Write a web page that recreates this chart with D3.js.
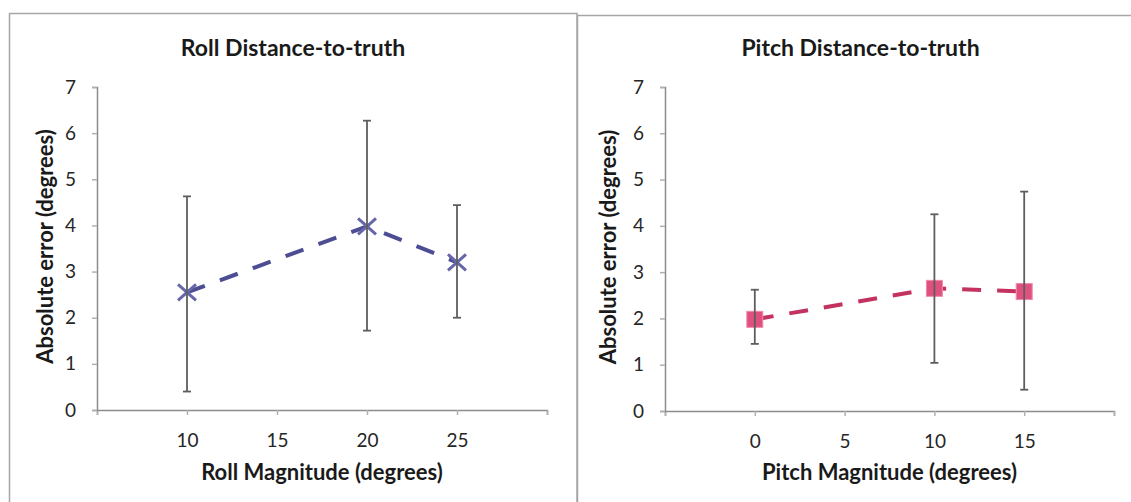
<!DOCTYPE html>
<html>
<head>
<meta charset="utf-8">
<script src="https://cdn.jsdelivr.net/npm/d3@7"></script>
<style>
  body{margin:0;background:#fff;}
  svg{display:block;}
  svg text{font-family:Lato,"Open Sans",sans-serif;}
</style>
</head>
<body>
<svg width="1131" height="502"></svg>
<script>
  const svgWidth=1131;
  const svgHeight=502;

  // roll panel
  const rollX=[10,20,25];
  const rollMean=[2.55,3.98,3.2];
  const rollLow=[0.4,1.72,2.0];
  const rollHigh=[4.63,6.27,4.44];
  const rollTicks=[10,15,20,25];

  // pitch panel
  const pitchX=[0,10,15];
  const pitchMean=[1.98,2.65,2.58];
  const pitchLow=[1.45,1.04,0.46];
  const pitchHigh=[2.62,4.25,4.74];
  const pitchTicks=[0,5,10,15];

  const yTicks=[0,1,2,3,4,5,6,7];

  const panels=[
    {title:"Roll Distance-to-truth",xLabel:"Roll Magnitude (degrees)",
     xs:rollX,mean:rollMean,low:rollLow,high:rollHigh,ticks:rollTicks,xDomain:[5,30],
     box:[9.5,13.5,567.5,520],plot:{left:97,right:547,top:87,bottom:410},
     yLabelGap:44,line:"#4d4d94",marker:"x",markerColor:"#6666aa"},
    {title:"Pitch Distance-to-truth",xLabel:"Pitch Magnitude (degrees)",
     xs:pitchX,mean:pitchMean,low:pitchLow,high:pitchHigh,ticks:pitchTicks,xDomain:[-5,20],
     box:[577.5,15.5,570,520],plot:{left:665,right:1114,top:87,bottom:411},
     yLabelGap:49,line:"#c4335f",marker:"square",markerColor:"#e0507e"}
  ];

  const svg=d3.select("svg");

  panels.forEach((p,i)=>{
    const g=svg.append("g").attr("class","panel-"+i);

    g.append("rect")
      .attr("x",p.box[0]).attr("y",p.box[1])
      .attr("width",p.box[2]).attr("height",p.box[3])
      .style("fill","#fff")
      .style("stroke","#a6a6a6")
      .style("stroke-width",1.5);

    const xScale=d3.scaleLinear().domain(p.xDomain).range([p.plot.left,p.plot.right]);
    const yScale=d3.scaleLinear().domain([0,7]).range([p.plot.bottom,p.plot.top]);

    const xAxis=d3.axisBottom(xScale).tickValues(p.ticks.concat(p.xDomain)).tickSize(5).tickFormat(d=> p.ticks.includes(d)? d : "");
    const yAxis=d3.axisLeft(yScale).tickValues(yTicks).tickSize(5).tickFormat(d=>d);

    g.append("g")
      .attr("class","xAxis")
      .attr("transform",`translate(0,${p.plot.bottom})`)
      .call(xAxis)
      .selectAll("text")
      .attr("dy","1.55em")
      .style("font-size","19px")
      .style("fill","#262626");

    g.append("g")
      .attr("class","yAxis")
      .attr("transform",`translate(${p.plot.left},0)`)
      .call(yAxis)
      .selectAll("text")
      .attr("x",-21)
      .style("font-size","19px")
      .style("fill","#262626");

    g.selectAll(".domain")
      .style("stroke","#8c8c8c")
      .style("stroke-width",1.5);
    g.selectAll(".tick line")
      .style("stroke","#b0b0b0")
      .style("stroke-width",1.5);

    const cx=(p.plot.left+p.plot.right)/2;

    g.append("text")
      .text(p.title)
      .attr("x",cx-29)
      .attr("y",56)
      .attr("text-anchor","middle")
      .style("font-size","23px")
      .style("font-weight","bold")
      .style("fill","#1a1a1a");

    g.append("text")
      .text(p.xLabel)
      .attr("x",cx)
      .attr("y",480)
      .attr("text-anchor","middle")
      .style("font-size","22px")
      .style("font-weight","bold")
      .style("fill","#1a1a1a");

    g.append("text")
      .text("Absolute error (degrees)")
      .attr("transform",`translate(${p.plot.left-p.yLabelGap},${(p.plot.top+p.plot.bottom)/2-2}) rotate(-90)`)
      .attr("text-anchor","middle")
      .style("font-size","22px")
      .style("font-weight","bold")
      .style("fill","#1a1a1a");

    const pts=p.xs.map((x,j)=>({x:x,m:p.mean[j],lo:p.low[j],hi:p.high[j]}));

    g.append("path")
      .datum(pts)
      .attr("d",d3.line().x(d=>xScale(d.x)).y(d=>yScale(d.m)))
      .style("fill","none")
      .style("stroke",p.line)
      .style("stroke-width",4)
      .style("stroke-dasharray","19,16");

    const mk=g.selectAll(".marker").data(pts).enter().append("g")
      .attr("class","marker")
      .attr("transform",d=>`translate(${xScale(d.x)},${yScale(d.m)})`);

    if(p.marker==="x"){
      mk.append("path")
        .attr("d","M-9,-8L9,8M-9,8L9,-8")
        .style("stroke",p.markerColor)
        .style("stroke-width",3);
    } else {
      mk.append("rect")
        .attr("x",-8).attr("y",-8).attr("width",16).attr("height",16)
        .style("fill",p.markerColor)
        .style("stroke","#f08aab")
        .style("stroke-width",1);
    }

    const eb=g.selectAll(".errbar").data(pts).enter().append("g").attr("class","errbar")
      .style("stroke","#5e5e5e").style("stroke-width",1.8);
    eb.append("line")
      .attr("x1",d=>xScale(d.x)).attr("x2",d=>xScale(d.x))
      .attr("y1",d=>yScale(d.lo)).attr("y2",d=>yScale(d.hi));
    eb.append("line")
      .attr("x1",d=>xScale(d.x)-4).attr("x2",d=>xScale(d.x)+4)
      .attr("y1",d=>yScale(d.hi)).attr("y2",d=>yScale(d.hi));
    eb.append("line")
      .attr("x1",d=>xScale(d.x)-4).attr("x2",d=>xScale(d.x)+4)
      .attr("y1",d=>yScale(d.lo)).attr("y2",d=>yScale(d.lo));
  });
</script>
</body>
</html>
